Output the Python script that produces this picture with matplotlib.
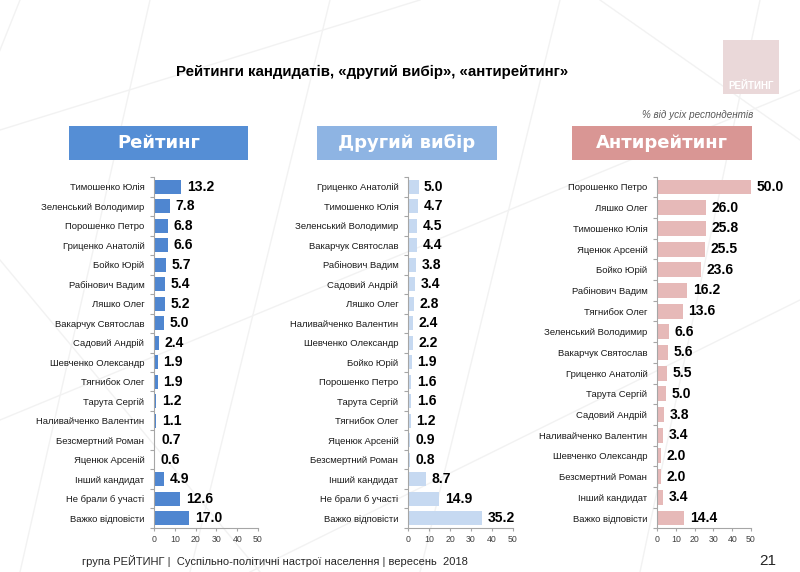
import matplotlib.pyplot as plt
from matplotlib.patches import Rectangle
from matplotlib.lines import Line2D

plt.rcParams['font.family'] = ['Liberation Sans Narrow', 'Liberation Sans', 'DejaVu Sans']

# --- data ---
rating_names = ['Тимошенко Юлія', 'Зеленський Володимир', 'Порошенко Петро', 'Гриценко Анатолій',
                'Бойко Юрій', 'Рабінович Вадим', 'Ляшко Олег', 'Вакарчук Святослав',
                'Садовий Андрій', 'Шевченко Олександр', 'Тягнибок Олег', 'Тарута Сергій',
                'Наливайченко Валентин', 'Безсмертний Роман', 'Яценюк Арсеній',
                'Інший кандидат', 'Не брали б участі', 'Важко відповісти']
rating_values = [13.2, 7.8, 6.8, 6.6, 5.7, 5.4, 5.2, 5.0, 2.4, 1.9, 1.9, 1.2, 1.1, 0.7, 0.6,
                 4.9, 12.6, 17.0]

second_names = ['Гриценко Анатолій', 'Тимошенко Юлія', 'Зеленський Володимир', 'Вакарчук Святослав',
                'Рабінович Вадим', 'Садовий Андрій', 'Ляшко Олег', 'Наливайченко Валентин',
                'Шевченко Олександр', 'Бойко Юрій', 'Порошенко Петро', 'Тарута Сергій',
                'Тягнибок Олег', 'Яценюк Арсеній', 'Безсмертний Роман',
                'Інший кандидат', 'Не брали б участі', 'Важко відповісти']
second_values = [5.0, 4.7, 4.5, 4.4, 3.8, 3.4, 2.8, 2.4, 2.2, 1.9, 1.6, 1.6, 1.2, 0.9, 0.8,
                 8.7, 14.9, 35.2]

anti_names = ['Порошенко Петро', 'Ляшко Олег', 'Тимошенко Юлія', 'Яценюк Арсеній', 'Бойко Юрій',
              'Рабінович Вадим', 'Тягнибок Олег', 'Зеленський Володимир', 'Вакарчук Святослав',
              'Гриценко Анатолій', 'Тарута Сергій', 'Садовий Андрій', 'Наливайченко Валентин',
              'Шевченко Олександр', 'Безсмертний Роман', 'Інший кандидат', 'Важко відповісти']
anti_values = [50.0, 26.0, 25.8, 25.5, 23.6, 16.2, 13.6, 6.6, 5.6, 5.5, 5.0, 3.8, 3.4,
               2.0, 2.0, 3.4, 14.4]

x_ticks = [0, 10, 20, 30, 40, 50]
headers = ['Рейтинг', 'Другий вибір', 'Антирейтинг']

W, H = 800, 572
fig = plt.figure(figsize=(8, 5.72), dpi=100)
fig.patch.set_facecolor('white')

# faint diagonal lines in the background
for x_a, y_a, x_b, y_b in [(20, 0, -60, 200), (150, 0, 20, 572), (330, 0, 190, 572),
                           (560, 0, 420, 572), (760, 0, 640, 572), (0, 130, 420, 0),
                           (0, 420, 800, 90), (250, 572, 800, 300), (600, 0, 800, 140),
                           (0, 260, 260, 572)]:
    fig.add_artist(Line2D([x_a / W, x_b / W], [1 - y_a / H, 1 - y_b / H],
                          transform=fig.transFigure, color='#f2f2f2', lw=1, zorder=0))


def fig_rect(x0, y0, x1, y1, color):
    fig.add_artist(Rectangle((x0 / W, 1 - y1 / H), (x1 - x0) / W, (y1 - y0) / H,
                             transform=fig.transFigure, facecolor=color, edgecolor='none'))


def fig_text(x, y, s, **kw):
    fig.text(x / W, 1 - y / H, s, **kw)


# title, note, logo
fig_text(372, 72, 'Рейтинги кандидатів, «другий вибір», «антирейтинг»',
         ha='center', va='center', fontsize=10.8, fontweight='bold', color='black')
fig_text(753, 115, '% від усіх респондентів', ha='right', va='center',
         fontsize=7.1, style='italic', color='#595959')
fig_rect(723, 40, 779, 94, '#ead8d9')
fig_text(751, 86, 'РЕЙТИНГ', ha='center', va='center', fontsize=7,
         fontweight='bold', color='white')

panels = [
    (rating_names, rating_values, '#4f86d0', '#558ed5', (69, 248), 154, 258),
    (second_names, second_values, '#c6d9f1', '#8eb4e3', (317, 497), 408, 513),
    (anti_names, anti_values, '#e6b9b8', '#d99694', (572, 752), 657, 751),
]

first_y, last_y = 187, 518
for (names, values, bar_col, head_col, (hx0, hx1), ax_x0, ax_x1), title in zip(panels, headers):
    # header box
    fig_rect(hx0, 126, hx1, 160, head_col)
    fig_text((hx0 + hx1) / 2, 143, title, ha='center', va='center', fontsize=13,
             fontweight='bold', color='white', family='DejaVu Sans')

    n = len(names)
    step = (last_y - first_y) / (n - 1)
    y_top = first_y - step / 2
    y_bot = last_y + step / 2
    ax = fig.add_axes([ax_x0 / W, 1 - y_bot / H, (ax_x1 - ax_x0) / W, (y_bot - y_top) / H])
    ax.patch.set_alpha(0)

    pos = list(range(n))
    ax.barh(pos, values, height=0.72, color=bar_col)
    for i, v in zip(pos, values):
        ax.annotate(f'{v:.1f}', (v, i), xytext=(4, 0), textcoords='offset points',
                    ha='left', va='center', fontsize=10, fontweight='bold', color='black')

    ax.set_xlim(0, 50)
    ax.set_ylim(n - 0.5, -0.5)
    ax.set_yticks(pos)
    ax.set_yticklabels(names, fontsize=6.8, color='#1a1a1a')
    ax.set_yticks([p - 0.5 for p in range(n + 1)], minor=True)
    ax.tick_params(axis='y', which='major', length=0, pad=7)
    ax.tick_params(axis='y', which='minor', length=3, color='#a6a6a6', width=0.8)
    ax.set_xticks(x_ticks)
    ax.tick_params(axis='x', length=2, color='#a6a6a6', labelsize=6.3, labelcolor='#404040', pad=3)

    for side in ['top', 'right']:
        ax.spines[side].set_visible(False)
    for side in ['left', 'bottom']:
        ax.spines[side].set_color('#a6a6a6')
        ax.spines[side].set_linewidth(0.8)

# footer
fig_text(82, 561, 'група РЕЙТИНГ |  Суспільно-політичні настрої населення | вересень  2018',
         ha='left', va='center', fontsize=8, color='#262626')
fig_text(768, 561, '21', ha='center', va='center', fontsize=11, color='#262626')

fig.savefig('out.png', dpi=100)
